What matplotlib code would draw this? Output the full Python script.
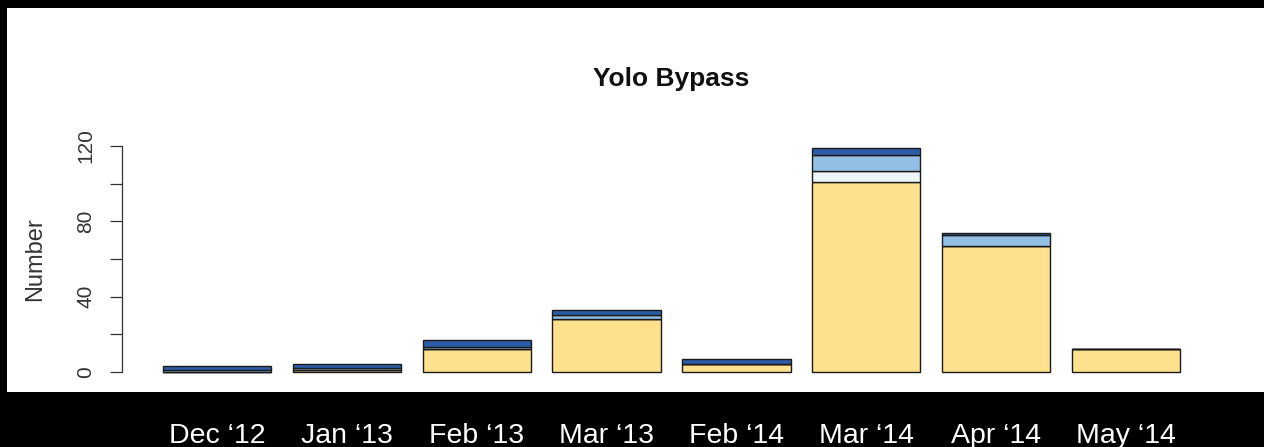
# Yolo Bypass: stacked monthly counts, R-barplot look on a black slide background.

import numpy as np
import matplotlib.pyplot as plt
from matplotlib.patches import Rectangle

plt.rcParams['font.family'] = ['Liberation Sans', 'DejaVu Sans']

# --------- data ---------
months = ["Dec \u201812", "Jan \u201813", "Feb \u201813", "Mar \u201813",
          "Feb \u201814", "Mar \u201814", "Apr \u201814", "May \u201814"]
yellow_vals = [0, 1, 12, 28, 4, 101, 67, 12]   # bottom layer
pale_vals   = [0, 0, 0, 0, 0, 6, 0, 0]
light_vals  = [1, 1, 1, 2, 0, 8, 6, 0]
dark_vals   = [2, 2, 4, 3, 3, 4, 1, 0]         # top layer

layers = [yellow_vals, pale_vals, light_vals, dark_vals]
colors = ['#FFE08C', '#EEF5FB', '#94BFE4', '#2C5CA6']

# --------- figure ---------
fig = plt.figure(figsize=(12.64, 4.47), dpi=100, facecolor='black')
# white "slide" panel the R plot sits on
fig.patches.append(Rectangle((7 / 1264, 55 / 447), 1257 / 1264, 384 / 447,
                             transform=fig.transFigure, facecolor='white',
                             edgecolor='none', zorder=-10))

ax = fig.add_axes([122 / 1264, 66 / 447, 1099 / 1264, 244 / 447])
ax.set_facecolor('none')
ax.set_zorder(1)

# R barplot geometry: width 1, space 0.2
x = 0.7 + 1.2 * np.arange(len(months))
bottom = np.zeros(len(months))
for vals, col in zip(layers, colors):
    vals = np.array(vals, dtype=float)
    ax.bar(x, vals, width=1.0, bottom=bottom, color=col,
           edgecolor='#1a1a1a', linewidth=1.0)
    bottom += vals

ax.set_xlim(-0.176, 9.976)
ax.set_ylim(-4.8, 124.8)

for s in ['top', 'right', 'bottom']:
    ax.spines[s].set_visible(False)
ax.spines['left'].set_bounds(0, 120)
ax.spines['left'].set_color('#333333')
ax.spines['left'].set_linewidth(0.9)

yt = np.arange(0, 121, 20)
ax.set_yticks(yt)
ax.set_yticklabels([str(v) if v % 40 == 0 else '' for v in yt],
                   rotation=90, va='center', fontsize=15, color='#333333')
ax.tick_params(axis='y', length=9, width=0.9, color='#333333', pad=10)

ax.set_xticks(x)
ax.set_xticklabels(months, fontsize=20.5, color='white')
ax.tick_params(axis='x', length=0, pad=30)

ax.set_ylabel("Number", fontsize=17, color='#333333', labelpad=22)
ax.set_title("Yolo Bypass", fontsize=19, fontweight='bold', color='#111111', pad=37)

fig.savefig("out.png", dpi=100, facecolor='black')
